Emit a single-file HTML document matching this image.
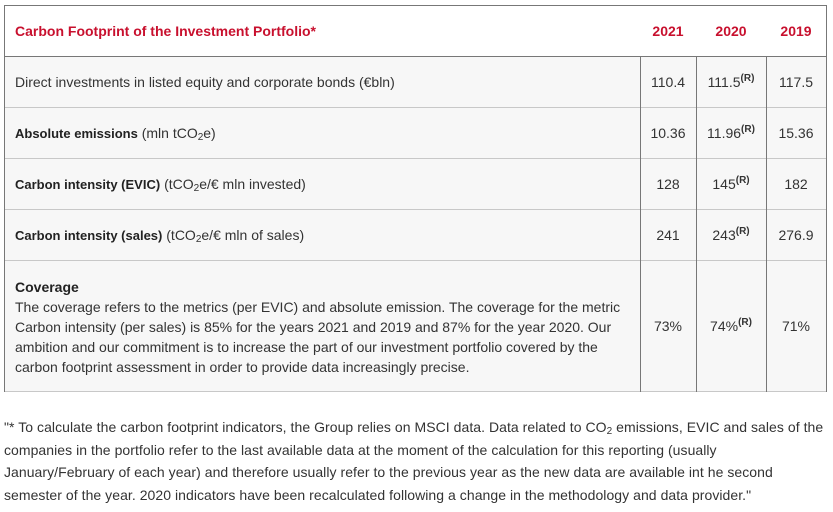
<!DOCTYPE html>
<html><head><meta charset="utf-8"><style>
body{margin:0;width:833px;height:512px;background:#fff;font-family:"Liberation Sans",Arial,sans-serif;color:#333;font-size:14px;position:relative;overflow:hidden}
.a{position:absolute;white-space:nowrap}
.hl{position:absolute;left:4px;width:822px;height:1px;background:#c8c8c8}
.vl{position:absolute;width:1px;background:#777}
.r{color:#c8102e;font-weight:bold;font-size:14px}
.n{position:absolute;text-align:center;white-space:nowrap}
sup{font-size:10px;font-weight:bold;vertical-align:6px;line-height:0}
sub{font-size:10px;vertical-align:-2px;line-height:0}
b{color:#222;font-size:13px}
.f{letter-spacing:0.05px}
</style></head><body>
<div style="position:absolute;left:4px;top:56px;width:822px;height:335px;background:#f7f7f7"></div>
<div class="hl" style="top:5px;background:#777"></div>
<div class="hl" style="top:56px;background:#777"></div>
<div class="hl" style="top:107px"></div>
<div class="hl" style="top:158px"></div>
<div class="hl" style="top:209px"></div>
<div class="hl" style="top:260px"></div>
<div class="hl" style="top:391px"></div>
<div class="vl" style="left:4px;top:5px;height:387px"></div>
<div class="vl" style="left:826px;top:5px;height:387px"></div>
<div class="vl" style="left:640px;top:56px;height:336px"></div>
<div class="vl" style="left:696px;top:56px;height:336px"></div>
<div class="vl" style="left:766px;top:56px;height:336px"></div>

<div class="a r" style="left:15px;top:23px">Carbon Footprint of the Investment Portfolio*</div>
<div class="n r" style="left:640px;width:56px;top:23px">2021</div>
<div class="n r" style="left:696px;width:70px;top:23px">2020</div>
<div class="n r" style="left:766px;width:60px;top:23px">2019</div>

<div class="a" style="left:15px;top:74px">Direct investments in listed equity and corporate bonds (€bln)</div>
<div class="a" style="left:15px;top:125px"><b>Absolute emissions</b> (mln tCO<sub>2</sub>e)</div>
<div class="a" style="left:15px;top:176px"><b>Carbon intensity (EVIC)</b> (tCO<sub>2</sub>e/€ mln invested)</div>
<div class="a" style="left:15px;top:227px"><b>Carbon intensity (sales)</b> (tCO<sub>2</sub>e/€ mln of sales)</div>
<div class="a" style="left:15px;top:277px;line-height:20px"><b style="font-size:14px">Coverage</b><br>The coverage refers to the metrics (per EVIC) and absolute emission. The coverage for the metric<br>Carbon intensity (per sales) is 85% for the years 2021 and 2019 and 87% for the year 2020. Our<br>ambition and our commitment is to increase the part of our investment portfolio covered by the<br>carbon footprint assessment in order to provide data increasingly precise.</div>

<div class="n" style="left:640px;width:56px;top:74px">110.4</div>
<div class="n" style="left:696px;width:70px;top:74px">111.5<sup>(R)</sup></div>
<div class="n" style="left:766px;width:60px;top:74px">117.5</div>
<div class="n" style="left:640px;width:56px;top:125px">10.36</div>
<div class="n" style="left:696px;width:70px;top:125px">11.96<sup>(R)</sup></div>
<div class="n" style="left:766px;width:60px;top:125px">15.36</div>
<div class="n" style="left:640px;width:56px;top:176px">128</div>
<div class="n" style="left:696px;width:70px;top:176px">145<sup>(R)</sup></div>
<div class="n" style="left:766px;width:60px;top:176px">182</div>
<div class="n" style="left:640px;width:56px;top:227px">241</div>
<div class="n" style="left:696px;width:70px;top:227px">243<sup>(R)</sup></div>
<div class="n" style="left:766px;width:60px;top:227px">276.9</div>
<div class="n" style="left:640px;width:56px;top:318px">73%</div>
<div class="n" style="left:696px;width:70px;top:318px">74%<sup>(R)</sup></div>
<div class="n" style="left:766px;width:60px;top:318px">71%</div>

<div class="a f" style="left:4px;top:416px;line-height:22.6px">"* To calculate the carbon footprint indicators, the Group relies on MSCI data. Data related to CO<sub>2</sub> emissions, EVIC and sales of the<br>companies in the portfolio refer to the last available data at the moment of the calculation for this reporting (usually<br>January/February of each year) and therefore usually refer to the previous year as the new data are available int he second<br>semester of the year. 2020 indicators have been recalculated following a change in the methodology and data provider."</div>
</body></html>
